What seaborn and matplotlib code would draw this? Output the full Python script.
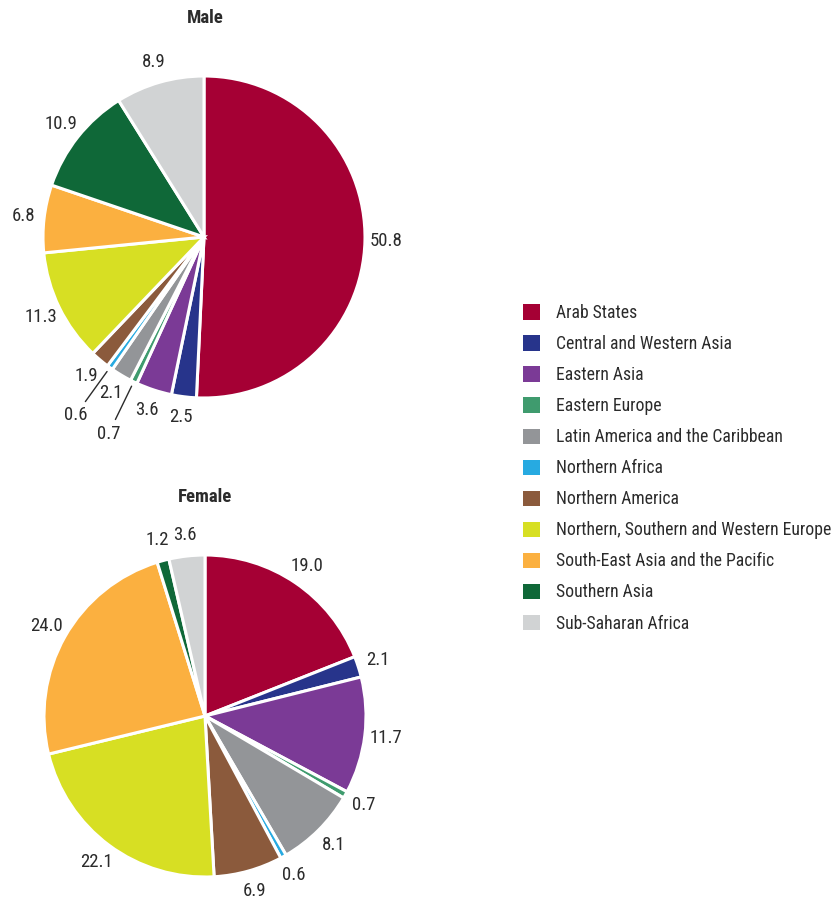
import numpy as np
import matplotlib
matplotlib.use("Agg")
import matplotlib.pyplot as plt
from matplotlib import font_manager
from matplotlib.patches import Patch
import seaborn as sns

regions = ["Arab States", "Central and Western Asia", "Eastern Asia", "Eastern Europe",
           "Latin America and the Caribbean", "Northern Africa", "Northern America",
           "Northern, Southern and Western Europe", "South-East Asia and the Pacific",
           "Southern Asia", "Sub-Saharan Africa"]
male = [50.8, 2.5, 3.6, 0.7, 2.1, 0.6, 1.9, 11.3, 6.8, 10.9, 8.9]
female = [19.0, 2.1, 11.7, 0.7, 8.1, 0.6, 6.9, 22.1, 24.0, 1.2, 3.6]
colors = ["#A50034", "#27348B", "#7B3A96", "#3F9B6E", "#939598", "#27AAE1",
          "#8B5A3C", "#D7DF23", "#FBB040", "#0F6838", "#D1D3D4"]
male_leader = ["0.7", "0.6"]

sns.set_theme(style="white")
names = {f.name for f in font_manager.fontManager.ttflist}
fam = None
for cand in ["Liberation Sans Narrow", "Roboto Condensed", "Open Sans Condensed"]:
    if cand in names:
        fam = cand
        break
stretch = "normal"
if fam is None:
    fam = "DejaVu Sans"
    stretch = "condensed"
plt.rcParams["font.family"] = [fam, "DejaVu Sans"]
plt.rcParams["font.stretch"] = stretch
TXT = "#2b2b2b"
FS = 13.5
LFS = 12.7

W, H = 836, 900
fig = plt.figure(figsize=(W / 100, H / 100), dpi=100)

R = 161
L = 1.3

def make_ax(cx, cy):
    size = 2 * L * R
    left = (cx - size / 2) / W
    bottom = ((H - cy) - size / 2) / H
    ax = fig.add_axes([left, bottom, size / W, size / H])
    return ax

def draw_pie(ax, vals, leader=()):
    wedges, _ = ax.pie(vals, colors=colors, startangle=90, counterclock=False,
                       wedgeprops=dict(edgecolor="white", linewidth=2.2))
    for w, v in zip(wedges, vals):
        lab = f"{v:.1f}"
        ang = np.deg2rad((w.theta1 + w.theta2) / 2)
        c, s = np.cos(ang), np.sin(ang)
        if lab in leader:
            ax.plot([1.03 * c, 1.26 * c], [1.03 * s, 1.26 * s], color=TXT, lw=1.0)
            ax.text(1.36 * c, 1.36 * s, lab, ha="center", va="center", fontsize=FS, color=TXT)
        else:
            ax.text(1.13 * c, 1.13 * s, lab, ha="center", va="center", fontsize=FS, color=TXT)
    ax.set_xlim(-L, L)
    ax.set_ylim(-L, L)
    ax.set_aspect("equal")
    ax.axis("off")

ax1 = make_ax(204, 237)
draw_pie(ax1, male, male_leader)
ax2 = make_ax(205, 716)
draw_pie(ax2, female)

fig.text(205 / W, 1 - 18 / H, "Male", ha="center", va="center", fontsize=FS,
         fontweight="bold", color=TXT)
fig.text(205 / W, 1 - 497 / H, "Female", ha="center", va="center", fontsize=FS,
         fontweight="bold", color=TXT)

handles = [Patch(facecolor=c, edgecolor="none") for c in colors]
fig.legend(handles, regions, loc="upper left", bbox_to_anchor=(523 / W, 1 - 304 / H),
           frameon=False, fontsize=LFS, handlelength=0.95, handleheight=0.95,
           handletextpad=0.9, labelspacing=0.74, borderpad=0, borderaxespad=0,
           labelcolor=TXT)

fig.savefig("out.png", dpi=100)
